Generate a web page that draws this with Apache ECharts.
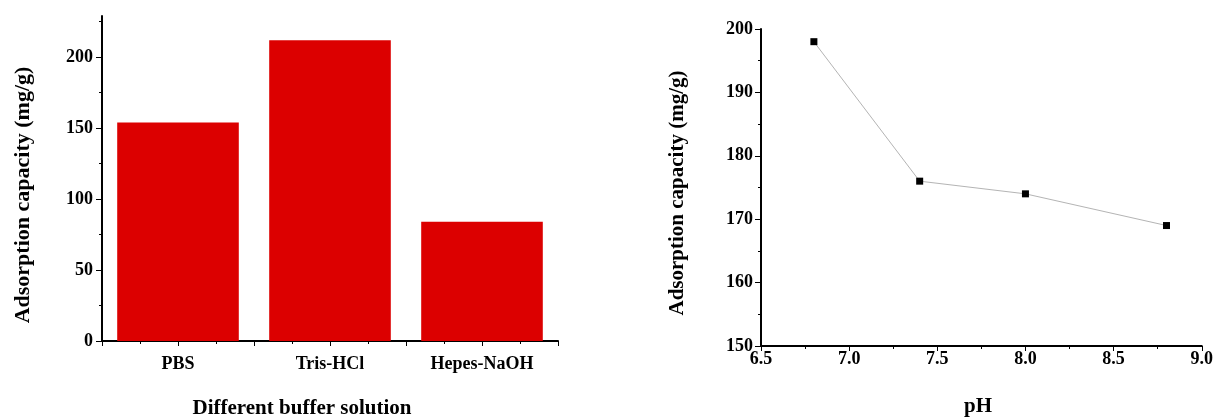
<!DOCTYPE html>
<html>
<head>
<meta charset="utf-8">
<script src="https://cdn.jsdelivr.net/npm/echarts@6/dist/echarts.min.js"></script>
<style>
  html, body { margin: 0; padding: 0; background: #fff; }
  #chart { width: 1216px; height: 419px; }
</style>
</head>
<body>
<div id="chart"></div>
<script>
// Left panel: adsorption capacity by buffer solution
const bufferCategories = ['PBS', 'Tris-HCl', 'Hepes-NaOH'];
const bufferCapacity = [154, 212, 84];
const leftYTicks = [0, 50, 100, 150, 200];
const leftYMinorTicks = [25, 75, 125, 175, 225];

// Right panel: adsorption capacity vs pH
const phValues = [6.8, 7.4, 8.0, 8.8];
const phCapacity = [198, 176, 174, 169];

const FONT = 'Liberation Serif';
const axisLineStyle = { color: '#000', width: 2 };
const tickStyle = { color: '#000', width: 1 };

const chart = echarts.init(document.getElementById('chart'), null, { renderer: 'canvas' });

const option = {
  backgroundColor: '#fff',
  animation: false,
  grid: [
    { left: 102, right: 658, top: 16, bottom: 78 },
    { left: 761, right: 14, top: 29, bottom: 73 }
  ],
  xAxis: [
    {
      type: 'category', gridIndex: 0, data: bufferCategories, position: 'bottom',
      axisLine: { lineStyle: axisLineStyle },
      axisTick: { show: false },
      axisLabel: { color: '#000', fontFamily: FONT, fontWeight: 'bold', fontSize: 18, margin: 14 },
      splitLine: { show: false }
    },
    {
      type: 'value', gridIndex: 0, min: 0, max: 3, interval: 0.5, position: 'bottom',
      axisLine: { show: false },
      axisTick: { show: true, length: 5, lineStyle: tickStyle },
      minorTick: { show: true, splitNumber: 2, length: 3, lineStyle: tickStyle },
      axisLabel: { show: false },
      splitLine: { show: false }
    },
    {
      type: 'value', gridIndex: 1, min: 6.5, max: 9.0, interval: 0.5, position: 'bottom',
      axisLine: { onZero: false, lineStyle: axisLineStyle },
      axisTick: { length: 5, lineStyle: tickStyle },
      minorTick: { show: true, splitNumber: 2, length: 3, lineStyle: tickStyle },
      axisLabel: { color: '#000', fontFamily: FONT, fontWeight: 'bold', fontSize: 18, margin: 4,
        formatter: v => v.toFixed(1) },
      splitLine: { show: false }
    }
  ],
  yAxis: [
    {
      type: 'value', gridIndex: 0, min: 0, max: 229, position: 'left',
      axisLine: { show: true, lineStyle: axisLineStyle },
      axisTick: { show: true, length: 6, lineStyle: tickStyle, customValues: leftYTicks },
      axisLabel: { color: '#000', fontFamily: FONT, fontWeight: 'bold', fontSize: 18, margin: 9,
        customValues: leftYTicks },
      splitLine: { show: false }
    },
    {
      type: 'value', gridIndex: 0, min: 0, max: 229, position: 'left',
      axisLine: { show: false },
      axisTick: { show: true, length: 3, lineStyle: tickStyle, customValues: leftYMinorTicks },
      axisLabel: { show: false },
      splitLine: { show: false }
    },
    {
      type: 'value', gridIndex: 1, min: 150, max: 200, interval: 10, position: 'left',
      axisLine: { show: true, onZero: false, lineStyle: axisLineStyle },
      axisTick: { show: true, length: 6, lineStyle: tickStyle },
      minorTick: { show: true, splitNumber: 2, length: 3, lineStyle: tickStyle },
      axisLabel: { color: '#000', fontFamily: FONT, fontWeight: 'bold', fontSize: 18, margin: 8 },
      splitLine: { show: false }
    }
  ],
  series: [
    {
      type: 'bar', xAxisIndex: 0, yAxisIndex: 0,
      data: bufferCapacity,
      barCategoryGap: '20%',
      itemStyle: { color: '#dc0000' }
    },
    {
      type: 'line', xAxisIndex: 2, yAxisIndex: 2,
      data: phValues.map((x, i) => [x, phCapacity[i]]),
      symbol: 'rect', symbolSize: 7,
      itemStyle: { color: '#000' },
      lineStyle: { color: '#b4b4b4', width: 1 }
    }
  ],
  graphic: [
    { type: 'text', x: 23, y: 195, rotation: Math.PI / 2,
      style: { text: 'Adsorption capacity (mg/g)', font: 'bold 22px "Liberation Serif"', fill: '#000',
        align: 'center', verticalAlign: 'middle' } },
    { type: 'text', x: 302, y: 409,
      style: { text: 'Different buffer solution', font: 'bold 21px "Liberation Serif"', fill: '#000',
        align: 'center', verticalAlign: 'middle' } },
    { type: 'text', x: 678, y: 193, rotation: Math.PI / 2,
      style: { text: 'Adsorption capacity (mg/g)', font: 'bold 21px "Liberation Serif"', fill: '#000',
        align: 'center', verticalAlign: 'middle' } },
    { type: 'text', x: 978, y: 407,
      style: { text: 'pH', font: 'bold 21px "Liberation Serif"', fill: '#000',
        align: 'center', verticalAlign: 'middle' } }
  ]
};

chart.setOption(option);
</script>
</body>
</html>
